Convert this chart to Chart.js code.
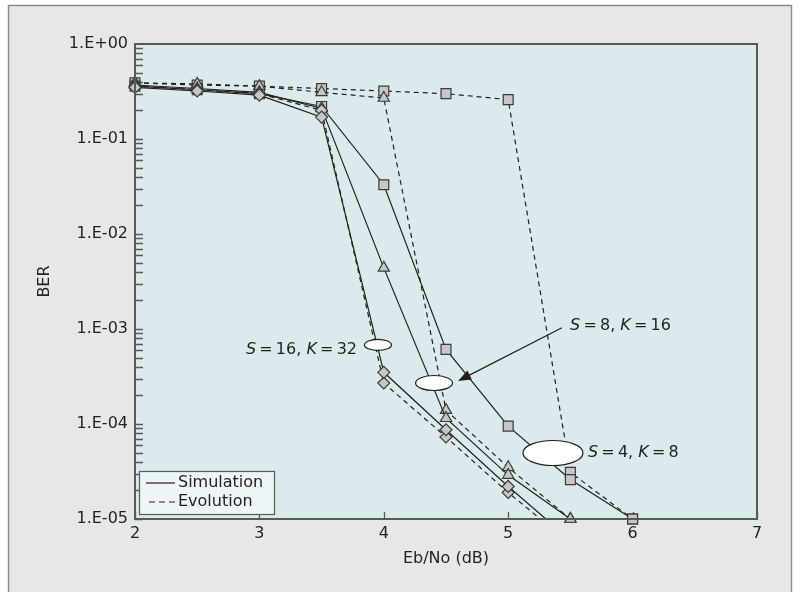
<!DOCTYPE html>
<html>
<head>
<meta charset="utf-8">
<script src="https://cdn.jsdelivr.net/npm/chart.js@4/dist/chart.umd.min.js"></script>
<style>
  html, body { margin: 0; padding: 0; background: #fff; }
  #contenedor { width: 801px; height: 592px; }
</style>
</head>
<body>
<div id="contenedor"><canvas id="grafico-ber"></canvas></div>
<script>
// Eb/No (dB)
const ebno = [2, 2.5, 3, 3.5, 4, 4.5, 5, 5.5, 6];

// S=4, K=8 (cuadrados)
const simS4 = [0.36, 0.33, 0.30, 0.22, 3.3e-2, 6.1e-4, 9.5e-5, 2.6e-5, 1.0e-5];
const evoS4 = [0.39, 0.37, 0.36, 0.34, 0.32, 0.30, 0.26, 3.1e-5, 1.0e-5];
// S=8, K=16 (triangulos)
const simS8 = [0.37, 0.34, 0.31, 0.21, 4.4e-3, 1.15e-4, 2.9e-5, 1.0e-5];
const evoS8 = [0.39, 0.38, 0.36, 0.31, 0.27, 1.4e-4, 3.5e-5, 1.0e-5];
// S=16, K=32 (rombos) - el ultimo valor cae por debajo del eje
const simS16 = [0.35, 0.32, 0.29, 0.17, 3.5e-4, 8.7e-5, 2.2e-5, 6.0e-6];
const evoS16 = [0.36, 0.33, 0.30, 0.20, 2.7e-4, 7.3e-5, 1.9e-5, 5.5e-6];

const yTickValues = [1e-5, 1e-4, 1e-3, 1e-2, 1e-1, 1];
const yTickLabels = ['1.E-05', '1.E-04', '1.E-03', '1.E-02', '1.E-01', '1.E+00'];
const xTickValues = [2, 3, 4, 5, 6, 7];
const leyenda = ['Simulation', 'Evolution'];

const FUENTE = '"DejaVu Sans", sans-serif';
const TINTA = '#231f20';

// anotaciones (coordenadas en unidades de los ejes)
const elipses = [
  { x: 3.953, y: 6.8e-4, rx: 13.5, ry: 5.5 },
  { x: 4.404, y: 2.7e-4, rx: 18.5, ry: 7.5 },
  { x: 5.36, y: 4.95e-5, rx: 30, ry: 12.5 }
];
const etiquetas = [
  { partes: [['S', true], ['\u2009=\u200916, ', false], ['K', true], ['\u2009=\u200932', false]], x: 3.785, y: 6.0e-4, align: 'right' },
  { partes: [['S', true], ['\u2009=\u20098, ', false], ['K', true], ['\u2009=\u200916', false]], x: 5.497, y: 1.08e-3, align: 'left' },
  { partes: [['S', true], ['\u2009=\u20094, ', false], ['K', true], ['\u2009=\u20098', false]], x: 5.641, y: 4.95e-5, align: 'left' }
];
const flecha = { desde: [5.432, 1.03e-3], hasta: [4.597, 2.84e-4] };

function puntos(valores) {
  return valores.map((v, i) => ({ x: ebno[i], y: v }));
}

function serie(label, valores, forma, radio, discontinua, recorte) {
  return {
    label: label,
    data: puntos(valores),
    borderColor: TINTA,
    borderWidth: 1.2,
    borderDash: discontinua ? [5, 4] : [],
    pointStyle: forma,
    pointRadius: ctx => (ctx.raw && ctx.raw.y < 1e-5 ? 0 : radio),
    pointHoverRadius: ctx => (ctx.raw && ctx.raw.y < 1e-5 ? 0 : radio),
    pointBackgroundColor: '#c6c7c9',
    pointBorderColor: '#3b3b3b',
    pointBorderWidth: 1.2,
    tension: 0,
    fill: false,
    clip: recorte
  };
}

const sinRecorte = false;
const recorteAbajo = { left: false, top: false, right: false, bottom: 0 };

const datasets = [
  serie('S=16 sim', simS16, 'rectRot', 6, false, recorteAbajo),
  serie('S=16 evo', evoS16, 'rectRot', 6, true, recorteAbajo),
  serie('S=8 sim', simS8, 'triangle', 6.5, false, sinRecorte),
  serie('S=8 evo', evoS8, 'triangle', 6.5, true, sinRecorte),
  serie('S=4 sim', simS4, 'rect', 7, false, sinRecorte),
  serie('S=4 evo', evoS4, 'rect', 7, true, sinRecorte)
];

function textoMixto(ctx, partes, x, y, align) {
  const normal = '16px ' + FUENTE;
  const cursiva = 'italic 16px ' + FUENTE;
  let total = 0;
  partes.forEach(p => { ctx.font = p[1] ? cursiva : normal; total += ctx.measureText(p[0]).width; });
  let cx = align === 'right' ? x - total : x;
  ctx.textBaseline = 'middle';
  ctx.textAlign = 'left';
  partes.forEach(p => {
    ctx.font = p[1] ? cursiva : normal;
    ctx.fillText(p[0], cx, y);
    cx += ctx.measureText(p[0]).width;
  });
}

const marco = {
  id: 'marco',
  beforeDraw(chart) {
    const { ctx, width, height, chartArea: a } = chart;
    ctx.save();
    ctx.fillStyle = '#ffffff';
    ctx.fillRect(0, 0, width, height);
    ctx.fillStyle = '#e6e7e8';
    ctx.fillRect(8, 5, 784, height);
    ctx.strokeStyle = '#8c8c8c';
    ctx.lineWidth = 1.5;
    ctx.strokeRect(8.5, 5.5, 783, height + 10);
    ctx.fillStyle = '#dbeaed';
    ctx.fillRect(a.left, a.top, a.width, a.height);

    // marcas de los ejes hacia dentro
    const ys = chart.scales.y, xs = chart.scales.x;
    ctx.strokeStyle = '#58595b';
    ctx.lineWidth = 1.3;
    ctx.beginPath();
    for (let e = -5; e < 0; e++) {
      for (let m = 1; m <= 9; m++) {
        const py = Math.round(ys.getPixelForValue(m * Math.pow(10, e))) + 0.5;
        ctx.moveTo(a.left, py);
        ctx.lineTo(a.left + 8, py);
      }
    }
    xTickValues.forEach(v => {
      const px = Math.round(xs.getPixelForValue(v)) + 0.5;
      ctx.moveTo(px, a.bottom);
      ctx.lineTo(px, a.bottom - 7);
    });
    ctx.stroke();
    ctx.restore();
  },
  afterDatasetsDraw(chart) {
    const { ctx, chartArea: a } = chart;
    const xs = chart.scales.x, ys = chart.scales.y;
    ctx.save();

    // borde del area de trazado
    ctx.strokeStyle = '#58595b';
    ctx.lineWidth = 2;
    ctx.strokeRect(a.left, a.top, a.width, a.height);

    // elipses
    ctx.fillStyle = '#ffffff';
    ctx.strokeStyle = TINTA;
    ctx.lineWidth = 1.2;
    elipses.forEach(el => {
      ctx.beginPath();
      ctx.ellipse(xs.getPixelForValue(el.x), ys.getPixelForValue(el.y), el.rx, el.ry, 0, 0, Math.PI * 2);
      ctx.fill();
      ctx.stroke();
    });

    // flecha
    const x0 = xs.getPixelForValue(flecha.desde[0]), y0 = ys.getPixelForValue(flecha.desde[1]);
    const x1 = xs.getPixelForValue(flecha.hasta[0]), y1 = ys.getPixelForValue(flecha.hasta[1]);
    const ang = Math.atan2(y1 - y0, x1 - x0);
    ctx.beginPath();
    ctx.moveTo(x0, y0);
    ctx.lineTo(x1 - Math.cos(ang) * 10, y1 - Math.sin(ang) * 10);
    ctx.stroke();
    ctx.fillStyle = TINTA;
    ctx.beginPath();
    ctx.moveTo(x1, y1);
    ctx.lineTo(x1 - Math.cos(ang) * 13 + Math.sin(ang) * 5, y1 - Math.sin(ang) * 13 - Math.cos(ang) * 5);
    ctx.lineTo(x1 - Math.cos(ang) * 13 - Math.sin(ang) * 5, y1 - Math.sin(ang) * 13 + Math.cos(ang) * 5);
    ctx.closePath();
    ctx.fill();

    // etiquetas S, K
    ctx.fillStyle = TINTA;
    etiquetas.forEach(et => {
      textoMixto(ctx, et.partes, xs.getPixelForValue(et.x), ys.getPixelForValue(et.y), et.align);
    });

    // leyenda
    const lx = a.left + 4, ly = a.bottom - 48;
    ctx.fillStyle = '#edf5f6';
    ctx.fillRect(lx, ly, 135, 43);
    ctx.strokeStyle = '#58595b';
    ctx.lineWidth = 1.2;
    ctx.strokeRect(lx + 0.5, ly + 0.5, 135, 43);
    ctx.strokeStyle = TINTA;
    ctx.lineWidth = 1.2;
    ctx.beginPath();
    ctx.moveTo(lx + 7, ly + 12);
    ctx.lineTo(lx + 36, ly + 12);
    ctx.stroke();
    ctx.setLineDash([6, 4]);
    ctx.beginPath();
    ctx.moveTo(lx + 10, ly + 31);
    ctx.lineTo(lx + 36, ly + 31);
    ctx.stroke();
    ctx.setLineDash([]);
    ctx.fillStyle = TINTA;
    ctx.font = '16px ' + FUENTE;
    ctx.textBaseline = 'middle';
    ctx.textAlign = 'left';
    ctx.fillText(leyenda[0], lx + 39, ly + 12);
    ctx.fillText(leyenda[1], lx + 39, ly + 31);
    ctx.restore();
  }
};

const config = {
  type: 'line',
  data: { datasets: datasets },
  options: {
    responsive: true,
    maintainAspectRatio: false,
    animation: false,
    events: [],
    layout: { padding: { top: 44, right: 44, left: 0, bottom: 0 } },
    plugins: {
      legend: { display: false },
      tooltip: { enabled: false }
    },
    scales: {
      x: {
        type: 'linear',
        min: 2,
        max: 7,
        afterBuildTicks: s => { s.ticks = xTickValues.map(v => ({ value: v })); },
        afterFit: s => { s.height = 73; },
        grid: { display: false, drawTicks: false },
        border: { display: false },
        ticks: {
          color: TINTA,
          padding: 5,
          font: { family: FUENTE, size: 16 },
          maxRotation: 0,
          autoSkip: false
        },
        title: {
          display: true,
          text: 'Eb/No (dB)',
          color: TINTA,
          font: { family: FUENTE, size: 16 },
          padding: { top: 0, bottom: 24 }
        }
      },
      y: {
        type: 'logarithmic',
        min: 1e-5,
        max: 1,
        afterBuildTicks: s => { s.ticks = yTickValues.map(v => ({ value: v, major: true })); },
        afterFit: s => { s.width = 135; },
        grid: { display: false, drawTicks: false },
        border: { display: false },
        ticks: {
          color: TINTA,
          padding: 7,
          autoSkip: false,
          font: { family: FUENTE, size: 16 },
          callback: function (value) {
            const i = yTickValues.findIndex(v => Math.abs(Math.log10(v) - Math.log10(value)) < 1e-6);
            return i >= 0 ? yTickLabels[i] : '';
          }
        },
        title: {
          display: true,
          text: 'BER',
          color: TINTA,
          font: { family: FUENTE, size: 16 },
          padding: { top: 35, bottom: 0 }
        }
      }
    }
  },
  plugins: [marco]
};

const ctx = document.getElementById('grafico-ber').getContext('2d');
new Chart(ctx, config);
</script>
</body>
</html>
